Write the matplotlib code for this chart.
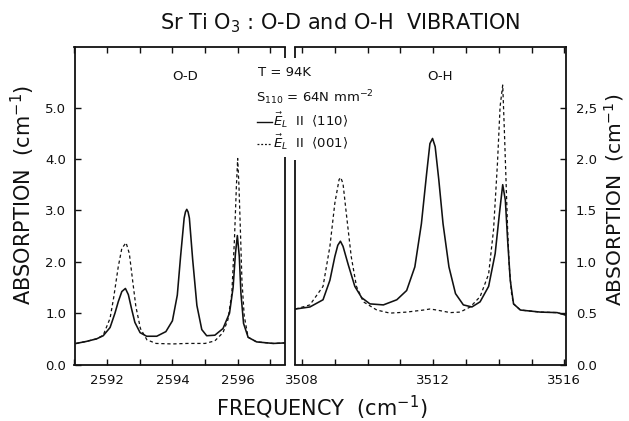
import matplotlib
matplotlib.use("Agg")
import matplotlib.pyplot as plt
from matplotlib.lines import Line2D
from matplotlib.ticker import MultipleLocator

plt.rcParams['font.family'] = ['DejaVu Sans']
plt.rcParams['mathtext.fontset'] = 'dejavusans'

# ---- O-D band (left panel, left axis units) ----
od_solid_x = [2591.05, 2591.37, 2591.68, 2591.88, 2592.09, 2592.24, 2592.34, 2592.45, 2592.56,
              2592.65, 2592.75, 2592.85, 2593.01, 2593.21, 2593.52, 2593.80, 2594.00, 2594.15,
              2594.25, 2594.36, 2594.40, 2594.44, 2594.48, 2594.52, 2594.62, 2594.75, 2594.90,
              2595.05, 2595.30, 2595.55, 2595.75, 2595.86, 2595.93, 2595.99, 2596.05, 2596.10,
              2596.18, 2596.32, 2596.58, 2597.09, 2597.45]
od_solid_y = [0.41, 0.45, 0.50, 0.56, 0.72, 1.00, 1.22, 1.42, 1.48,
              1.36, 1.08, 0.82, 0.62, 0.55, 0.55, 0.64, 0.85, 1.35,
              2.10, 2.85, 2.97, 3.02, 2.97, 2.85, 2.05, 1.15, 0.68,
              0.56, 0.57, 0.70, 1.00, 1.50, 2.15, 2.51, 2.10, 1.38,
              0.80, 0.53, 0.44, 0.41, 0.42]

od_dash_x = [2591.05, 2591.37, 2591.68, 2591.88, 2592.09, 2592.20, 2592.34, 2592.45, 2592.58,
             2592.68, 2592.78, 2592.88, 2593.02, 2593.22, 2593.50, 2594.00, 2594.45, 2595.00,
             2595.30, 2595.55, 2595.70, 2595.82, 2595.90, 2595.96, 2596.00, 2596.04, 2596.08,
             2596.13, 2596.20, 2596.32, 2596.58, 2597.09, 2597.45]
od_dash_y = [0.41, 0.45, 0.50, 0.57, 0.90, 1.30, 1.90, 2.26, 2.37,
             2.16, 1.64, 1.13, 0.70, 0.48, 0.41, 0.40, 0.41, 0.41,
             0.46, 0.62, 0.87, 1.38, 2.42, 3.46, 4.01, 3.46, 2.68,
             1.64, 0.95, 0.53, 0.44, 0.41, 0.42]

# ---- O-H band (right panel, right axis units) ----
oh_solid_x = [3507.80, 3508.24, 3508.64, 3508.85, 3509.00, 3509.09, 3509.17, 3509.25, 3509.41,
              3509.61, 3509.82, 3510.07, 3510.48, 3510.89, 3511.19, 3511.44, 3511.64, 3511.80,
              3511.90, 3511.98, 3512.06, 3512.17, 3512.30, 3512.48, 3512.68, 3512.92, 3513.18,
              3513.43, 3513.69, 3513.89, 3514.02, 3514.12, 3514.20, 3514.27, 3514.35, 3514.45,
              3514.66, 3515.27, 3515.78, 3516.05]
oh_solid_y = [0.54, 0.56, 0.63, 0.82, 1.05, 1.16, 1.20, 1.15, 0.97,
              0.76, 0.65, 0.59, 0.58, 0.63, 0.72, 0.95, 1.37, 1.86,
              2.15, 2.20, 2.12, 1.80, 1.37, 0.95, 0.69, 0.58, 0.56,
              0.61, 0.76, 1.08, 1.47, 1.75, 1.60, 1.21, 0.82, 0.59,
              0.53, 0.51, 0.505, 0.48]

oh_dash_x = [3507.80, 3508.24, 3508.64, 3508.85, 3509.00, 3509.13, 3509.18, 3509.25, 3509.35,
             3509.50, 3509.66, 3509.87, 3510.28, 3510.68, 3511.19, 3511.70, 3511.90, 3512.11,
             3512.52, 3512.82, 3513.13, 3513.43, 3513.69, 3513.84, 3513.96, 3514.04, 3514.12,
             3514.17, 3514.22, 3514.27, 3514.32, 3514.39, 3514.45, 3514.66, 3515.27, 3515.78,
             3516.05]
oh_dash_y = [0.54, 0.58, 0.76, 1.15, 1.57, 1.80, 1.82, 1.76, 1.47,
             1.05, 0.76, 0.61, 0.53, 0.50, 0.51, 0.53, 0.54, 0.53,
             0.505, 0.51, 0.56, 0.66, 0.88, 1.31, 1.96, 2.51, 2.72,
             2.28, 1.80, 1.31, 0.95, 0.69, 0.59, 0.53, 0.51, 0.505,
             0.48]

left_xticks = [2592, 2594, 2596]
right_xticks = [3508, 3512, 3516]
left_yticks = [0.0, 1.0, 2.0, 3.0, 4.0, 5.0]
left_yticklabels = ["0.0", "1.0", "2.0", "3.0", "4.0", "5.0"]
right_yticks = [0.0, 0.5, 1.0, 1.5, 2.0, 2.5]
right_yticklabels = ["0.0", "0.5", "1.0", "1.5", "2.0", "2,5"]

W, H = 629, 421
fig = plt.figure(figsize=(W / 100, H / 100), dpi=100)

def fx(x):
    return x / W

def fy(y):
    return 1 - y / H

top_px, bot_px = 47, 364.5
axL = fig.add_axes([fx(74.5), fy(bot_px), fx(285) - fx(74.5), fy(top_px) - fy(bot_px)])
axR = fig.add_axes([fx(294.5), fy(bot_px), fx(566) - fx(294.5), fy(top_px) - fy(bot_px)])

ink = '#111111'
lw_line = 1.15
dash = (0, (2.6, 2.2))

axL.plot(od_solid_x, od_solid_y, color=ink, lw=lw_line)
axL.plot(od_dash_x, od_dash_y, color=ink, lw=0.9, linestyle=dash)
axR.plot(oh_solid_x, oh_solid_y, color=ink, lw=lw_line)
axR.plot(oh_dash_x, oh_dash_y, color=ink, lw=0.9, linestyle=dash)

axL.set_xlim(2591.0, 2597.45)
axL.set_ylim(0, 6.18)
axR.set_xlim(3507.77, 3516.05)
axR.set_ylim(0, 3.09)

for ax in (axL, axR):
    for s in ax.spines.values():
        s.set_linewidth(1.3)
        s.set_color(ink)
    ax.xaxis.set_minor_locator(MultipleLocator(1))
    ax.tick_params(which='both', direction='in', length=4.2, width=1.0, color=ink,
                   top=True, bottom=True, labelsize=9.5, labelcolor=ink, pad=7)

axL.set_xticks(left_xticks)
axL.set_xticklabels([str(v) for v in left_xticks])
axL.set_yticks(left_yticks)
axL.set_yticklabels(left_yticklabels)
axL.tick_params(axis='y', left=True, right=False, pad=6)
axL.spines['right'].set_visible(False)

axR.set_xticks(right_xticks)
axR.set_xticklabels([str(v) for v in right_xticks])
axR.set_yticks(right_yticks)
axR.set_yticklabels(right_yticklabels)
axR.tick_params(axis='y', left=False, right=True, labelleft=False, labelright=True, pad=7)
axR.spines['left'].set_visible(False)

# broken inner frame edges
hpx = bot_px - top_px
for ax, xa, low_top in ((axL, 1.0, 157), (axR, 0.0, 160)):
    ax.plot([xa, xa], [0, (bot_px - low_top) / hpx], transform=ax.transAxes,
            color=ink, lw=1.3, clip_on=False, solid_capstyle='butt')
    ax.plot([xa, xa], [(bot_px - 58) / hpx, 1.0], transform=ax.transAxes,
            color=ink, lw=1.3, clip_on=False, solid_capstyle='butt')

# texts
fig.text(fx(340), fy(23), r"Sr Ti O$_3$ : O-D and O-H  VIBRATION", ha='center', va='center',
         fontsize=15, color=ink)
fig.text(fx(23), fy(195), r"ABSORPTION  (cm$^{-1}$)", rotation=90, ha='center', va='center',
         fontsize=15, color=ink)
fig.text(fx(614), fy(200), r"ABSORPTION  (cm$^{-1}$)", rotation=90, ha='center', va='center',
         fontsize=14.5, color=ink)
fig.text(fx(322), fy(408), r"FREQUENCY  (cm$^{-1}$)", ha='center', va='center',
         fontsize=15, color=ink)

fig.text(fx(185), fy(76), "O-D", ha='center', va='center', fontsize=9.5, color=ink)
fig.text(fx(440), fy(76), "O-H", ha='center', va='center', fontsize=9.5, color=ink)

fig.text(fx(258), fy(73), "T = 94K", ha='left', va='center', fontsize=9.5, color=ink)
fig.text(fx(256), fy(98), r"S$_{110}$ = 64N mm$^{-2}$", ha='left', va='center', fontsize=9.5, color=ink)
fig.add_artist(Line2D([fx(257), fx(272)], [fy(122), fy(122)], transform=fig.transFigure,
                      color=ink, lw=1.0))
fig.text(fx(273), fy(120), r"$\vec{E}_L$  II  $\langle$110$\rangle$", ha='left', va='center',
         fontsize=9.5, color=ink)
fig.add_artist(Line2D([fx(257), fx(272)], [fy(144), fy(144)], transform=fig.transFigure,
                      color=ink, lw=0.9, linestyle=(0, (1.5, 1.5))))
fig.text(fx(273), fy(142), r"$\vec{E}_L$  II  $\langle$001$\rangle$", ha='left', va='center',
         fontsize=9.5, color=ink)

fig.savefig("out.png", dpi=100, facecolor='white')
